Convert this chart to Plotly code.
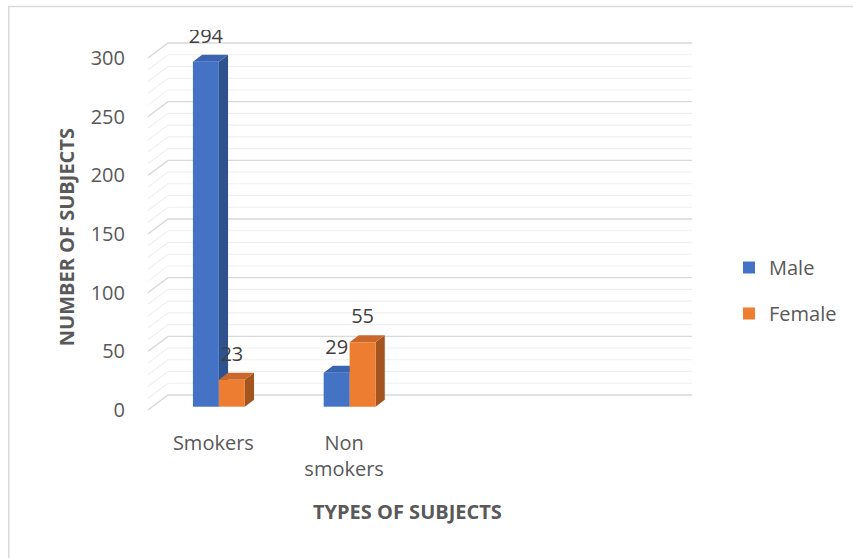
import plotly.graph_objects as go

# ---- data ----
categories = ["Smokers", "Non<br>smokers"]
cat_pos = [0, 1]
male = [294, 29]
female = [23, 55]
series_names = ["Male", "Female"]
y_ticks = [0, 50, 100, 150, 200, 250, 300]
y_tick_text = ["0", "50", "100", "150", "200", "250", "300"]
grid_step = 10
grid_max = 300
major_step = 50

# ---- geometry (pixel-based 3D look) ----
W, H = 853, 558
ml, mr, mt, mb = 148, 160, 30, 138
plot_w = W - ml - mr
plot_h = H - mt - mb
px_x = 131.0
px_y = 352.0 / 300.0
x_min = -0.5
x_max = x_min + plot_w / px_x
y_min = -10.0 / px_y
y_max = y_min + plot_h / px_y
wall_dx = 20.0 / px_x
wall_dy = 15.0 / px_y
bar_w = 26.0 / px_x
pair_shift = 0.042
d0 = 0.22
d_depth = 0.46
ddx = d_depth * wall_dx
ddy = d_depth * wall_dy
yb = d0 * wall_dy
label_gap = 17.0 / px_y

front_cols = ["#4472C4", "#ED7D31"]
top_cols = ["#3A64B0", "#C9682A"]
side_cols = ["#2F528F", "#A3541F"]
FONT = "Open Sans"
FS = 20

fig = go.Figure()

# gridlines (back wall + left wall)
for major in (False, True):
    xs, ys = [], []
    for v in range(0, grid_max + 1, grid_step):
        if (v % major_step == 0) != major:
            continue
        xs += [x_min, x_min + wall_dx, x_max, None]
        ys += [v, v + wall_dy, v + wall_dy, None]
    fig.add_trace(go.Scatter(
        x=xs, y=ys, mode="lines", hoverinfo="skip", showlegend=False,
        line=dict(color="#D9D9D9" if major else "#EFEFEF", width=1.4 if major else 1.1)))

# bars
series_vals = [male, female]
for s, vals in enumerate(series_vals):
    for i, v in zip(cat_pos, vals):
        x0 = i + pair_shift - bar_w + s * bar_w
        x1 = x0 + bar_w
        yt = yb + v
        # side face
        fig.add_trace(go.Scatter(
            x=[x1, x1 + ddx, x1 + ddx, x1, x1], y=[yb, yb + ddy, yt + ddy, yt, yb],
            mode="lines", fill="toself", fillcolor=side_cols[s], line=dict(width=0),
            hoverinfo="skip", showlegend=False))
        # top face
        fig.add_trace(go.Scatter(
            x=[x0, x1, x1 + ddx, x0 + ddx, x0], y=[yt, yt, yt + ddy, yt + ddy, yt],
            mode="lines", fill="toself", fillcolor=top_cols[s], line=dict(width=0),
            hoverinfo="skip", showlegend=False))
        # front face
        fig.add_trace(go.Scatter(
            x=[x0, x1, x1, x0, x0], y=[yb, yb, yt, yt, yb],
            mode="lines", fill="toself", fillcolor=front_cols[s], line=dict(width=0),
            hoverinfo="skip", showlegend=False))

# data labels
for s, vals in enumerate(series_vals):
    xs = [i + pair_shift - bar_w + s * bar_w + bar_w / 2 for i in cat_pos]
    ys = [yb + v + ddy + label_gap for v in vals]
    fig.add_trace(go.Scatter(
        x=xs, y=ys, mode="text", text=[str(v) for v in vals],
        textposition="middle center", textfont=dict(family=FONT, size=FS, color="#404040"),
        hoverinfo="skip", showlegend=False))

# legend entries
for s, name in enumerate(series_names):
    fig.add_trace(go.Scatter(
        x=[None], y=[None], mode="markers", name=name, legendgroup=name,
        marker=dict(symbol="square", size=12, color=front_cols[s])))

def px2paper_x(px):
    return (px - ml) / plot_w

def px2paper_y(py):
    return (H - mb - py) / plot_h

fig.update_layout(
    width=W, height=H, autosize=False,
    margin=dict(l=ml, r=mr, t=mt, b=mb),
    paper_bgcolor="white", plot_bgcolor="white",
    font=dict(family=FONT, size=FS, color="#595959"),
    xaxis=dict(range=[x_min, x_max], tickvals=cat_pos, ticktext=categories,
               showgrid=False, zeroline=False, showline=False,
               ticks="outside", ticklen=5, tickcolor="rgba(0,0,0,0)",
               tickfont=dict(family=FONT, size=FS, color="#595959")),
    yaxis=dict(range=[y_min, y_max], tickvals=y_ticks, ticktext=y_tick_text,
               showgrid=False, zeroline=False, showline=False,
               ticks="outside", ticklen=18, tickcolor="rgba(0,0,0,0)",
               tickfont=dict(family=FONT, size=FS, color="#595959")),
    showlegend=True,
    legend=dict(x=px2paper_x(729), y=px2paper_y(248), xanchor="left", yanchor="top",
                font=dict(family=FONT, size=FS, color="#595959"),
                tracegroupgap=17, itemwidth=30, bgcolor="rgba(0,0,0,0)"),
    annotations=[
        dict(text="<b>NUMBER OF SUBJECTS</b>", textangle=-90, showarrow=False,
             xref="paper", yref="paper", x=px2paper_x(66), y=px2paper_y(237),
             xanchor="center", yanchor="middle",
             font=dict(family=FONT, size=20, color="#595959")),
        dict(text="<b>TYPES OF SUBJECTS</b>", showarrow=False,
             xref="paper", yref="paper", x=px2paper_x(408), y=px2paper_y(511),
             xanchor="center", yanchor="middle",
             font=dict(family=FONT, size=20, color="#595959")),
    ],
    shapes=[dict(type="rect", xref="paper", yref="paper",
                 x0=px2paper_x(8.5), y0=px2paper_y(H + 20), x1=px2paper_x(W + 20), y1=px2paper_y(6.5),
                 line=dict(color="#D9D9D9", width=1.5), fillcolor="rgba(0,0,0,0)", layer="below")],
)

fig.write_html("out.html")
